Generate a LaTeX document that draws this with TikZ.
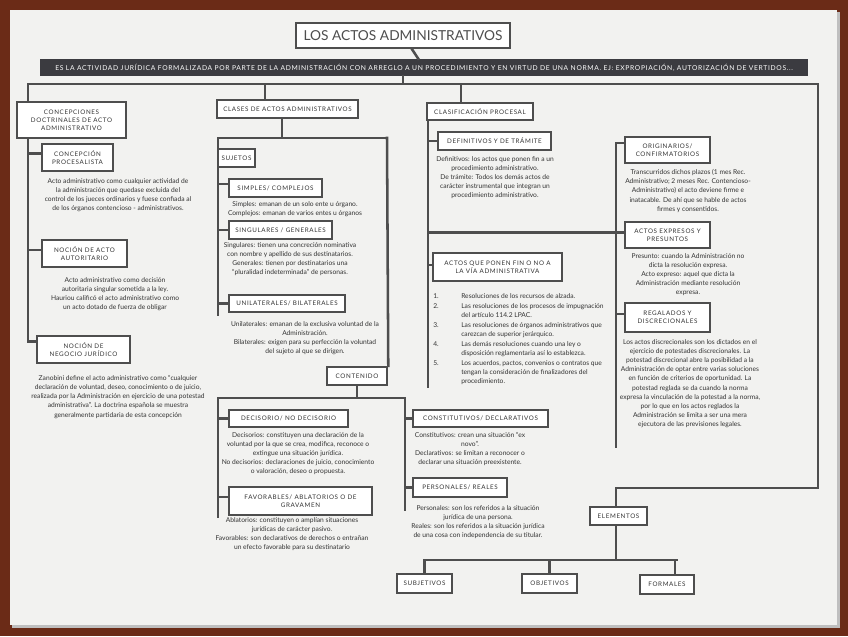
\documentclass[tikz,border=0pt]{standalone}
\usepackage{fontspec}
\setmainfont{Lato}
\newfontfamily\capsfont[LetterSpace=10]{Lato}
\definecolor{ink}{HTML}{333333}
\definecolor{frame}{HTML}{4E4E4E}
\definecolor{band}{HTML}{3B3B40}
\definecolor{paper}{HTML}{F2F2F0}
\definecolor{wood}{HTML}{6B2B17}

\begin{document}
\begin{tikzpicture}[x=0.75pt,y=-0.75pt,
  wh/.style 2 args={minimum width=#1*0.75pt,minimum height=#2*0.75pt},
  box/.style={draw=frame,line width=1.9pt,fill=white,align=center,inner sep=1pt,text=ink,font=\capsfont\fontsize{4.7}{6}\selectfont},
  txt/.style={align=center,anchor=north,inner sep=0pt,text=ink,font=\fontsize{5}{6.9}\selectfont},
  link/.style={draw=frame,line width=1.9pt,line cap=rect}]

\fill[wood] (0,0) rectangle (848,636);
\fill[black!25] (12,12) rectangle (840,628);
\fill[paper] (10,10) rectangle (837,625);
\useasboundingbox (0,0) rectangle (848,636);

\node[box,wh={214}{25},font=\fontsize{10.3}{12}\selectfont,text=frame] (T) at (403,35.5) {LOS ACTOS ADMINISTRATIVOS};
\node[fill=band,wh={768}{17},inner sep=0pt,text=white,font=\capsfont\fontsize{5.05}{5.5}\selectfont] (B) at (424,67.5)
  {ES LA ACTIVIDAD JURÍDICA FORMALIZADA POR PARTE DE LA ADMINISTRACIÓN CON ARREGLO A UN PROCEDIMIENTO Y EN VIRTUD DE UNA NORMA. EJ: EXPROPIACIÓN, AUTORIZACIÓN DE VERTIDOS...};
\coordinate (L) at (28,84);
\coordinate (R) at (818,84);
\draw[link] (T) -- (B);
\draw[link] (B.south -| T) -- (T |- L);
\draw[link] (L) -- (R);

\node[box,wh={109}{36}] (CD) at (71.5,120) {CONCEPCIONES\\DOCTRINALES DE ACTO\\ADMINISTRATIVO};
\node[box,wh={71}{27}] (CP) at (77.5,157.5) {CONCEPCIÓN\\PROCESALISTA};
\node[box,wh={85}{27}] (NA) at (84.5,253.5) {NOCIÓN DE ACTO\\AUTORITARIO};
\node[box,wh={93}{27}] (NN) at (83.5,349.5) {NOCIÓN DE\\NEGOCIO JURÍDICO};
\draw[link] (L) -- (L |- CD.north);
\draw[link] (L |- CD.south) |- ([yshift=6pt]NN.west);
\draw[link] ([yshift=3pt]CP.west) -- ([yshift=3pt]CP.west -| L);
\draw[link] ([yshift=2.5pt]NA.west) -- ([yshift=2.5pt]NA.west -| L);
\node[txt] (CPt) at (118,178) {Acto administrativo como cualquier actividad de\\la administración que quedase excluida del\\control de los jueces ordinarios y fuese confiada al\\de los órganos contencioso - administrativos.};
\node[txt] (NAt) at (115,277) {Acto administrativo como decisión\\autoritaria singular sometida a la ley.\\Hauriou calificó el acto administrativo como\\un acto dotado de fuerza de obligar};
\node[txt] (NNt) at (118,375) {Zanobini define el acto administrativo como ``cualquier\\declaración de voluntad, deseo, conocimiento o de juicio,\\realizada por la Administración en ejercicio de una potestad\\administrativa''. La doctrina española se muestra\\generalmente partidaria de esta concepción};

\coordinate (M) at (265,84);
\coordinate (S) at (218,138);
\coordinate (S2) at (387,138);
\node[box,wh={141}{18}] (CA) at (287.5,109) {CLASES DE ACTOS ADMINISTRATIVOS};
\node[box,wh={37}{18}] (SJ) at (236.5,158) {SUJETOS};
\node[box,wh={93}{18}] (SC) at (275.5,188) {SIMPLES/ COMPLEJOS};
\node[box,wh={103}{18}] (SG) at (280.5,230) {SINGULARES / GENERALES};
\node[box,wh={116}{17}] (UB) at (287,303.5) {UNILATERALES/ BILATERALES};
\node[box,wh={60}{18}] (CO) at (357,376) {CONTENIDO};
\draw[link] (M) -- (M |- CA.north);
\draw[link] ([xshift=-4pt]CA.south) -- ([xshift=-4pt]CA.south |- S);
\draw[link] (S) -- (S2);
\draw[link] (S) -- ([yshift=-1pt]S |- UB.south);
\draw[link] ([yshift=3pt]SC.west) -- ([yshift=3pt]SC.west -| S);
\draw[link] (SG.west) -- (SG.west -| S);
\draw[link] (UB.west) -- (UB.west -| S);
\draw[link] (S2) -- (CO.north east);
\node[txt] (SCt) at (295,201) {Simples: emanan de un solo ente u órgano.\\Complejos: emanan de varios entes u órganos};
\node[txt] (SGt) at (290,242) {Singulares: tienen una concreción nominativa\\con nombre y apellido de sus destinatarios.\\Generales: tienen por destinatarios una\\``pluralidad indeterminada'' de personas.};
\node[txt] (UBt) at (305,321) {Unilaterales: emanan de la exclusiva voluntad de la\\Administración.\\Bilaterales: exigen para su perfección la voluntad\\del sujeto al que se dirigen.};

\coordinate (C1) at (218,398);
\coordinate (C2) at (405,398);
\node[box,wh={119}{17}] (DN) at (288.5,418.5) {DECISORIO/ NO DECISORIO};
\node[box,wh={143}{28}] (FA) at (300.5,501) {FAVORABLES/ ABLATORIOS O DE\\GRAVAMEN};
\node[box,wh={135}{17}] (CT) at (480.5,418.5) {CONSTITUTIVOS/ DECLARATIVOS};
\node[box,wh={94}{19}] (PR) at (460,487.5) {PERSONALES/ REALES};
\draw[link] (CO) -- (CO |- C1);
\draw[link] (C1) -- (C2);
\draw[link] (C1) -- (C1 |- FA.south);
\draw[link] (C2) -- ++(0,112);
\draw[link] (DN.west) -- (DN.west -| C1);
\draw[link] ([yshift=3pt]FA.west) -- ([yshift=3pt]FA.west -| C1);
\draw[link] (CT.west) -- (CT.west -| C2);
\draw[link] (PR.west) -- (PR.west -| C2);
\node[txt] (DNt) at (298,432) {Decisorios: constituyen una declaración de la\\voluntad por la que se crea, modifica, reconoce o\\extingue una situación jurídica.\\No decisorios: declaraciones de juicio, conocimiento\\o valoración, deseo o propuesta.};
\node[txt] (FAt) at (292,517) {Ablatorios: constituyen o amplían situaciones\\jurídicas de carácter pasivo.\\Favorables: son declarativos de derechos o entrañan\\un efecto favorable para su destinatario};
\node[txt] (CTt) at (470,432) {Constitutivos: crean una situación ``ex\\novo''.\\Declarativos: se limitan a reconocer o\\declarar una situación preexistente.};
\node[txt] (PRt) at (478,505) {Personales: son los referidos a la situación\\jurídica de una persona.\\Reales: son los referidos a la situación jurídica\\de una cosa con independencia de su titular.};

\coordinate (P) at (461,84);
\coordinate (Q) at (428,120);
\node[box,wh={106}{17}] (CL) at (480,111.5) {CLASIFICACIÓN PROCESAL};
\node[box,wh={113}{18}] (DE) at (494.5,141) {DEFINITIVOS Y DE TRÁMITE};
\node[box,wh={129}{28}] (PF) at (497.5,267) {ACTOS QUE PONEN FIN O NO A\\LA VÍA ADMINISTRATIVA};
\draw[link] (P) -- (P |- CL.north);
\draw[link] (Q) -- ++(0,267);
\draw[link] (DE.west) -- (DE.west -| Q);
\draw[link] ([yshift=1.5pt]PF.west) -- ([yshift=1.5pt]PF.west -| Q);
\node[txt] (DEt) at (495,156) {Definitivos: los actos que ponen fin a un\\procedimiento administrativo.\\De trámite: Todos los demás actos de\\carácter instrumental que integran un\\procedimiento administrativo.};
\node[txt,anchor=north west,align=left,font=\fontsize{5}{6.4}\selectfont] (PFt) at (433,292)
  {\begin{tabular}{@{}p{21pt}@{}l@{}}
   1. & Resoluciones de los recursos de alzada.\\[1.5pt]
   2. & Las resoluciones de los procesos de impugnación\\
      & del artículo 114.2 LPAC.\\[1.5pt]
   3. & Las resoluciones de órganos administrativos que\\
      & carezcan de superior jerárquico.\\[1.5pt]
   4. & Las demás resoluciones cuando una ley o\\
      & disposición reglamentaria así lo establezca.\\[1.5pt]
   5. & Los acuerdos, pactos, convenios o contratos que\\
      & tengan la consideración de finalizadores del\\
      & procedimiento.
   \end{tabular}};

\coordinate (K) at (616,143);
\node[box,wh={85}{26}] (OR) at (667.5,150) {ORIGINARIOS/\\CONFIRMATORIOS};
\node[box,wh={85}{26}] (EX) at (667.5,235) {ACTOS EXPRESOS Y\\PRESUNTOS};
\node[box,wh={85}{29}] (RG) at (667.5,317.5) {REGALADOS Y\\DISCRECIONALES};
\draw[link] (K) -- (K -| OR.west);
\draw[link] (K) -- ++(0,304);
\draw[link] ([yshift=2pt]EX.west) -- ([yshift=2pt]EX.west -| Q);
\draw[link] ([yshift=2.5pt]RG.west) -- ([yshift=2.5pt]RG.west -| K);
\node[txt] (ORt) at (688,169) {Transcurridos dichos plazos (1 mes Rec.\\Administrativo; 2 meses Rec. Contencioso-\\Administrativo) el acto deviene firme e\\inatacable. De ahí que se hable de actos\\firmes y consentidos.};
\node[txt] (EXt) at (688,253) {Presunto: cuando la Administración no\\dicta la resolución expresa.\\Acto expreso: aquel que dicta la\\Administración mediante resolución\\expresa.};
\node[txt] (RGt) at (690,339) {Los actos discrecionales son los dictados en el\\ejercicio de potestades discrecionales. La\\potestad discrecional abre la posibilidad a la\\Administración de optar entre varias soluciones\\en función de criterios de oportunidad. La\\potestad reglada se da cuando la norma\\expresa la vinculación de la potestad a la norma,\\por lo que en los actos reglados la\\Administración se limita a ser una mera\\ejecutora de las previsiones legales.};

\coordinate (E0) at (616,488);
\coordinate (E1) at (616,560);
\node[box,wh={57}{18}] (EL) at (618.5,516) {ELEMENTOS};
\node[box,wh={55}{19}] (SU) at (424.5,583.5) {SUBJETIVOS};
\node[box,wh={55}{19}] (OB) at (549.5,583.5) {OBJETIVOS};
\node[box,wh={54}{19}] (FO) at (667,584.5) {FORMALES};
\draw[link] (R) |- (E0) -- (E0 |- EL.north);
\draw[link] (E0 |- EL.south) -- (E1);
\draw[link] (SU.north |- E1) -- ([xshift=7pt]FO.north |- E1);
\draw[link] (SU.north |- E1) -- (SU.north);
\draw[link] (OB.north |- E1) -- (OB.north);
\draw[link] ([xshift=6pt]FO.north |- E1) -- ([xshift=6pt]FO.north);
\end{tikzpicture}
\end{document}
